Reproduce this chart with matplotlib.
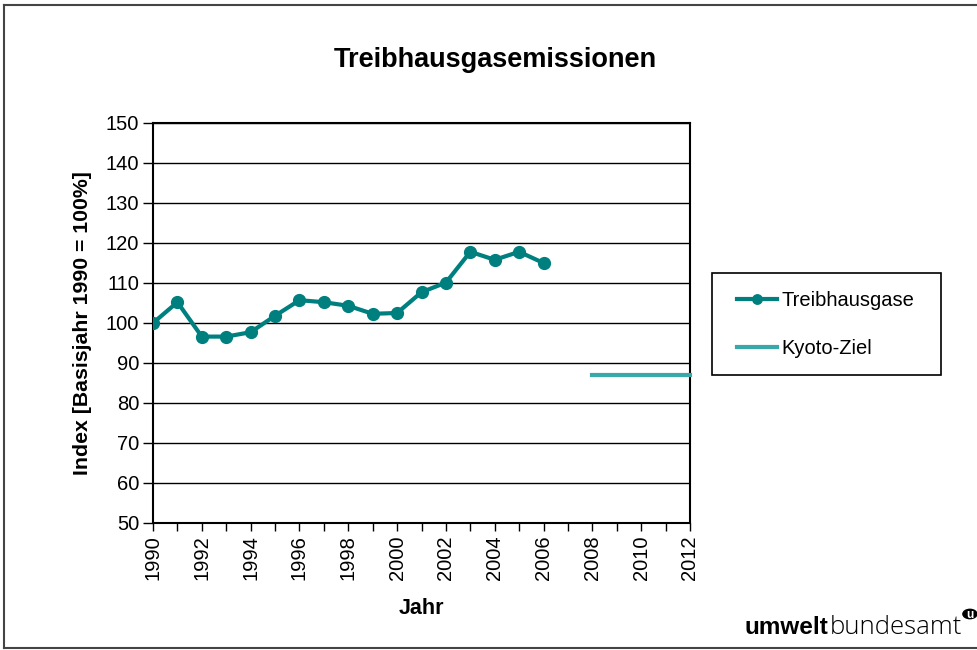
import matplotlib
matplotlib.use("Agg")
import matplotlib.pyplot as plt
from matplotlib.lines import Line2D
from matplotlib.patches import Circle, Rectangle

plt.rcParams["font.family"] = ["Liberation Sans", "DejaVu Sans"]

years = list(range(1990, 2007))
emissions = [100.0, 105.2, 96.6, 96.6, 97.7, 101.8, 105.7, 105.2, 104.3,
             102.3, 102.5, 107.7, 110.1, 117.8, 115.8, 117.8, 115.0]
kyoto_years = [2008, 2012]
kyoto_target = [87.0, 87.0]

fig = plt.figure(figsize=(9.77, 6.5), dpi=100)
ax = fig.add_axes([153 / 977, 1 - 523 / 650, 537 / 977, 400 / 650])

ax.plot(years, emissions, color="#007F7F", lw=3, marker="o", ms=8.5,
        label="Treibhausgase", zorder=3)
ax.plot(kyoto_years, kyoto_target, color="#38A8A8", lw=3,
        label="Kyoto-Ziel", zorder=3, clip_on=False)

ax.set_xlim(1990, 2012)
ax.set_ylim(50, 150)
ax.set_yticks(range(50, 151, 10))
ax.set_xticks(range(1990, 2013, 1))
ax.set_xticklabels([str(y) if y % 2 == 0 else "" for y in range(1990, 2013)],
                   rotation=90)
ax.tick_params(axis="both", direction="out", width=1,
               labelsize=14.5, colors="black", pad=3)
ax.tick_params(axis="y", length=7)
ax.tick_params(axis="x", length=6)
ax.yaxis.grid(True, color="black", lw=1)
ax.set_axisbelow(True)
for s in ax.spines.values():
    s.set_linewidth(1.5)
    s.set_color("black")

ax.set_xlabel("Jahr", fontsize=15.5, fontweight="bold", labelpad=13)
ax.set_ylabel("Index [Basisjahr 1990 = 100%]", fontsize=15.3,
              fontweight="bold", labelpad=10)

fig.text(495 / 977, 1 - 60 / 650, "Treibhausgasemissionen", ha="center",
         va="center", fontsize=19.5, fontweight="bold")

# legend box drawn separately, entries placed inside
fig.add_artist(Rectangle((712 / 977, 1 - 375 / 650), 229 / 977, 102 / 650,
                         transform=fig.transFigure, facecolor="white",
                         edgecolor="black", lw=1.2))
leg = fig.legend(loc="lower left",
                 bbox_to_anchor=(720 / 977, 1 - 375 / 650, 215 / 977, 102 / 650),
                 mode="expand", fontsize=14.5, frameon=False,
                 borderpad=0.85, labelspacing=1.45,
                 borderaxespad=0, handlelength=2.0, handletextpad=0.2,
                 markerscale=0.8)

# logo
renderer = fig.canvas.get_renderer()
t1 = fig.text(745 / 977, 1 - 628 / 650, "umwelt", ha="left", va="center",
              fontsize=17.5, fontweight="bold")
bb = t1.get_window_extent(renderer)
t2 = fig.text(bb.x1 / fig.bbox.width + 0.001, 1 - 628 / 650, "bundesamt",
              ha="left", va="center", fontsize=18.5,
              family=["Open Sans", "DejaVu Sans"], fontweight="light")
bb2 = t2.get_window_extent(renderer)
cx = bb2.x1 / fig.bbox.width + 0.008
fig.add_artist(Circle((cx, 1 - 614 / 650), 0.0072, transform=fig.transFigure,
                      color="black"))
fig.text(cx, 1 - 615 / 650, "u", ha="center", va="center",
         fontsize=8.5, fontweight="bold", color="white")

# figure border
for xs, ys in [((4 / 977, 4 / 977), (1 - 5 / 650, 1 - 648 / 650)),
               ((4 / 977, 1.0), (1 - 5 / 650, 1 - 5 / 650)),
               ((4 / 977, 1.0), (1 - 648 / 650, 1 - 648 / 650))]:
    fig.add_artist(Line2D(xs, ys, color="#444444", lw=1.5,
                          transform=fig.transFigure))

fig.savefig("out.png", dpi=100)
